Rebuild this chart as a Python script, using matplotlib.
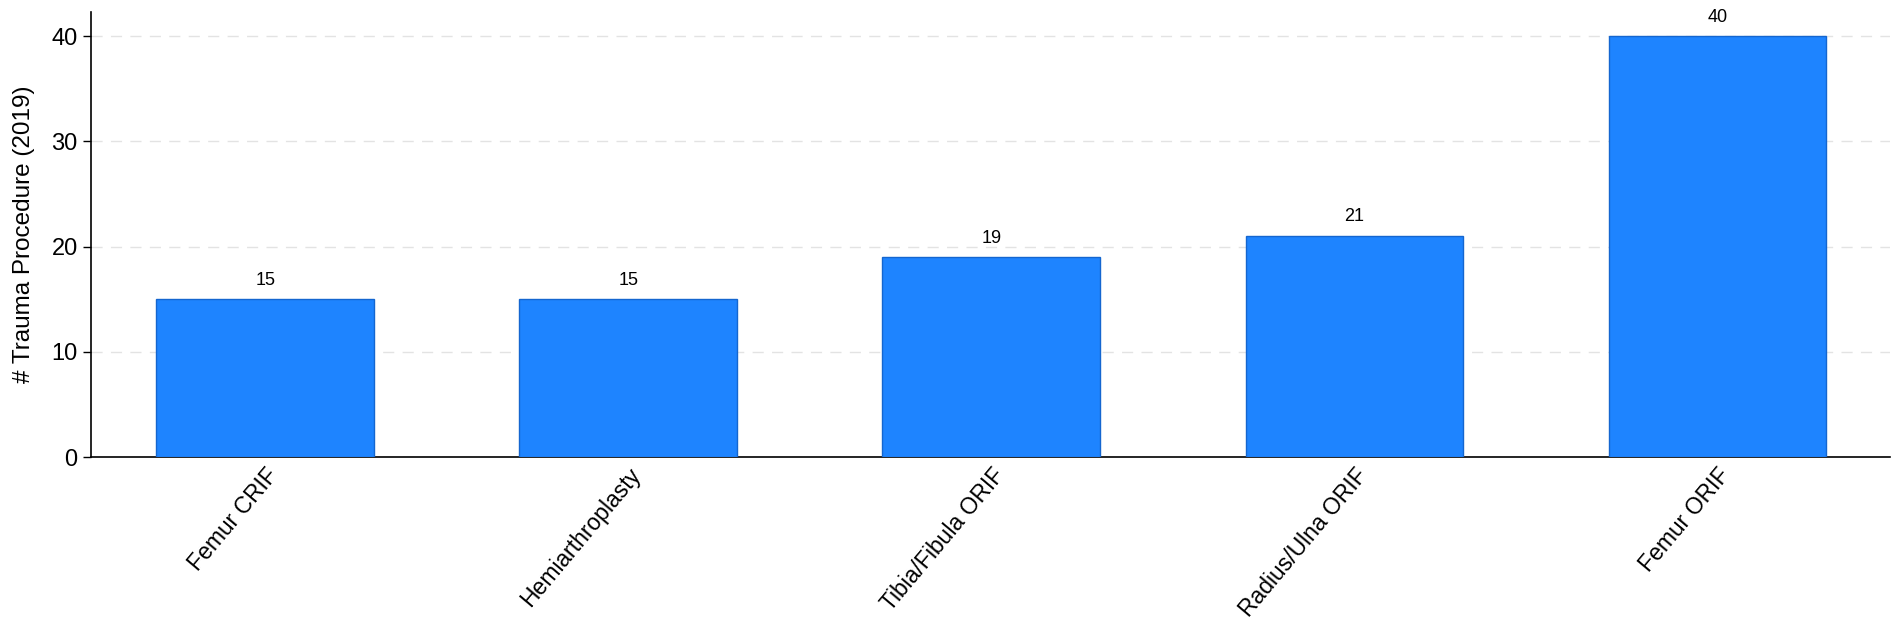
import matplotlib.pyplot as plt

procedures = ['Femur CRIF', 'Hemiarthroplasty', 'Tibia/Fibula ORIF', 'Radius/Ulna ORIF', 'Femur ORIF']
counts = [15, 15, 19, 21, 40]

plt.rcParams['font.family'] = ['Liberation Sans', 'DejaVu Sans']

fig = plt.figure(figsize=(19.02, 6.25), dpi=100)
ax = fig.add_axes([0.0478, 0.2688, 0.9459, 0.7122])

x = range(len(procedures))
bars = ax.bar(x, counts, width=0.6, color='#1E84FF', edgecolor='#1466D0', linewidth=1, zorder=3)

for b, v in zip(bars, counts):
    ax.text(b.get_x() + b.get_width() / 2, v + 1.0, str(v), ha='center', va='bottom', fontsize=13)

ax.set_xlim(-0.48, 4.475)
ax.set_ylim(0, 42.3)
ax.set_yticks([0, 10, 20, 30, 40])
ax.set_xticks(list(x))
ax.set_xticklabels(procedures, rotation=50, ha='right', rotation_mode='anchor', fontsize=16.5)
ax.tick_params(axis='x', length=0, pad=5)
ax.tick_params(axis='y', labelsize=17, length=6, width=1)
ax.set_ylabel('# Trauma Procedure (2019)', fontsize=17.5, labelpad=12)

ax.grid(axis='y', linestyle=(0, (8, 6)), color='#e3e3e3', linewidth=1, zorder=0)
ax.spines['top'].set_visible(False)
ax.spines['right'].set_visible(False)
ax.spines['left'].set_linewidth(1.2)
ax.spines['bottom'].set_linewidth(1.2)

fig.savefig('out.png', dpi=100)
